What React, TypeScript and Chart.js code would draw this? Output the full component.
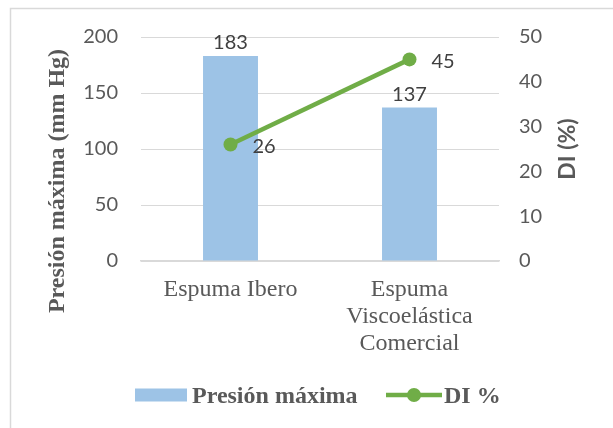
import React, { useEffect, useRef } from "react";
import { Chart, registerables } from "chart.js";

Chart.register(...registerables);

const categories: (string | string[])[] = ["Espuma Ibero", ["Espuma", "Viscoelástica", "Comercial"]];
const presionMaxima = [183, 137];
const diPercent = [26, 45];
const leftAxis = { min: 0, max: 200, step: 50 };
const rightAxis = { min: 0, max: 50, step: 10 };
const leftTitle = "Presión máxima (mm Hg)";
const rightTitle = "DI (%)";
const barLegend = "Presión máxima";
const lineLegend = "DI %";

const BAR_COLOR = "#9dc3e6";
const LINE_COLOR = "#70ad47";
const GRID = "#d9d9d9";
const TEXT = "#595959";
const LABEL = "#404040";

const decorPlugin = {
  id: "decor",
  beforeDraw(chart: any) {
    const ctx = chart.ctx;
    ctx.save();
    ctx.strokeStyle = GRID;
    ctx.lineWidth = 1.5;
    ctx.beginPath();
    ctx.moveTo(10.5, chart.height);
    ctx.lineTo(10.5, 8.5);
    ctx.lineTo(chart.width, 8.5);
    ctx.stroke();
    ctx.restore();
  },
  afterDraw(chart: any) {
    const ctx = chart.ctx;
    const area = chart.chartArea;
    ctx.save();
    ctx.font = "20px Lato";
    ctx.fillStyle = LABEL;
    ctx.textAlign = "center";
    ctx.textBaseline = "middle";
    chart.getDatasetMeta(0).data.forEach((bar: any, i: number) => {
      ctx.fillText(String(presionMaxima[i]), bar.x, bar.y - 13);
    });
    ctx.textAlign = "left";
    chart.getDatasetMeta(1).data.forEach((pt: any, i: number) => {
      ctx.fillText(String(diPercent[i]), pt.x + 22, pt.y + 2);
    });

    ctx.fillStyle = TEXT;
    ctx.font = "bold 24px 'Liberation Serif'";
    ctx.textAlign = "center";
    ctx.textBaseline = "middle";
    ctx.save();
    ctx.translate(58, 181);
    ctx.rotate(-Math.PI / 2);
    ctx.fillText(leftTitle, 0, 0);
    ctx.restore();

    ctx.font = "bold 23px Lato";
    ctx.save();
    ctx.translate(568, (area.top + area.bottom) / 2);
    ctx.rotate(-Math.PI / 2);
    ctx.fillText(rightTitle, 0, 0);
    ctx.restore();

    const ly = 395;
    ctx.fillStyle = BAR_COLOR;
    ctx.fillRect(135, ly - 6.5, 52, 13);
    ctx.fillStyle = TEXT;
    ctx.font = "bold 24px 'Liberation Serif'";
    ctx.textAlign = "left";
    ctx.textBaseline = "alphabetic";
    ctx.fillText(barLegend, 192, ly + 8);

    ctx.strokeStyle = LINE_COLOR;
    ctx.lineWidth = 4.5;
    ctx.beginPath();
    ctx.moveTo(386, ly);
    ctx.lineTo(442, ly);
    ctx.stroke();
    ctx.fillStyle = LINE_COLOR;
    ctx.beginPath();
    ctx.arc(414, ly, 7, 0, Math.PI * 2);
    ctx.fill();
    ctx.fillStyle = TEXT;
    ctx.fillText(lineLegend, 444, ly + 8);
    ctx.restore();
  },
};

export default function App() {
  const ref = useRef<HTMLCanvasElement | null>(null);
  useEffect(() => {
    if (!ref.current) return;
    const chart = new Chart(ref.current, {
      type: "bar",
      data: {
        labels: categories as any,
        datasets: [
          {
            type: "bar",
            label: barLegend,
            data: presionMaxima,
            backgroundColor: BAR_COLOR,
            yAxisID: "y",
            categoryPercentage: 1,
            barPercentage: 0.307,
            order: 2,
          },
          {
            type: "line",
            label: lineLegend,
            data: diPercent,
            borderColor: LINE_COLOR,
            backgroundColor: LINE_COLOR,
            borderWidth: 4.5,
            pointRadius: 7,
            pointHoverRadius: 7,
            pointBorderWidth: 0,
            yAxisID: "y1",
            order: 1,
          },
        ],
      } as any,
      options: {
        responsive: false,
        animation: false,
        layout: { padding: { top: 37, left: 0, right: 0, bottom: 0 } },
        plugins: { legend: { display: false }, tooltip: { enabled: false } },
        scales: {
          x: {
            offset: true,
            grid: { display: false, drawTicks: false },
            border: { display: true, color: GRID, width: 1.5 },
            ticks: {
              color: TEXT,
              padding: 15,
              maxRotation: 0,
              autoSkip: false,
              font: { family: "'Liberation Serif'", size: 24, lineHeight: 1.125 },
            },
            afterFit: (s: any) => {
              s.height = 428 - 261;
            },
          },
          y: {
            position: "left",
            min: leftAxis.min,
            max: leftAxis.max,
            ticks: {
              stepSize: leftAxis.step,
              color: TEXT,
              padding: 23,
              font: { family: "Lato", size: 20 },
            },
            grid: { color: GRID, lineWidth: 1, drawTicks: false },
            border: { display: false },
            afterFit: (s: any) => {
              s.width = 141;
            },
          },
          y1: {
            position: "right",
            min: rightAxis.min,
            max: rightAxis.max,
            ticks: {
              stepSize: rightAxis.step,
              color: TEXT,
              padding: 20,
              font: { family: "Lato", size: 20 },
            },
            grid: { display: false, drawTicks: false },
            border: { display: false },
            afterFit: (s: any) => {
              s.width = 613 - 499;
            },
          },
        },
      } as any,
      plugins: [decorPlugin],
    });
    return () => chart.destroy();
  }, []);
  return (
    <div style={{ position: "fixed", left: 0, top: 0, width: 613, height: 428, background: "#fff" }}>
      <canvas ref={ref} width={613} height={428} />
    </div>
  );
}
